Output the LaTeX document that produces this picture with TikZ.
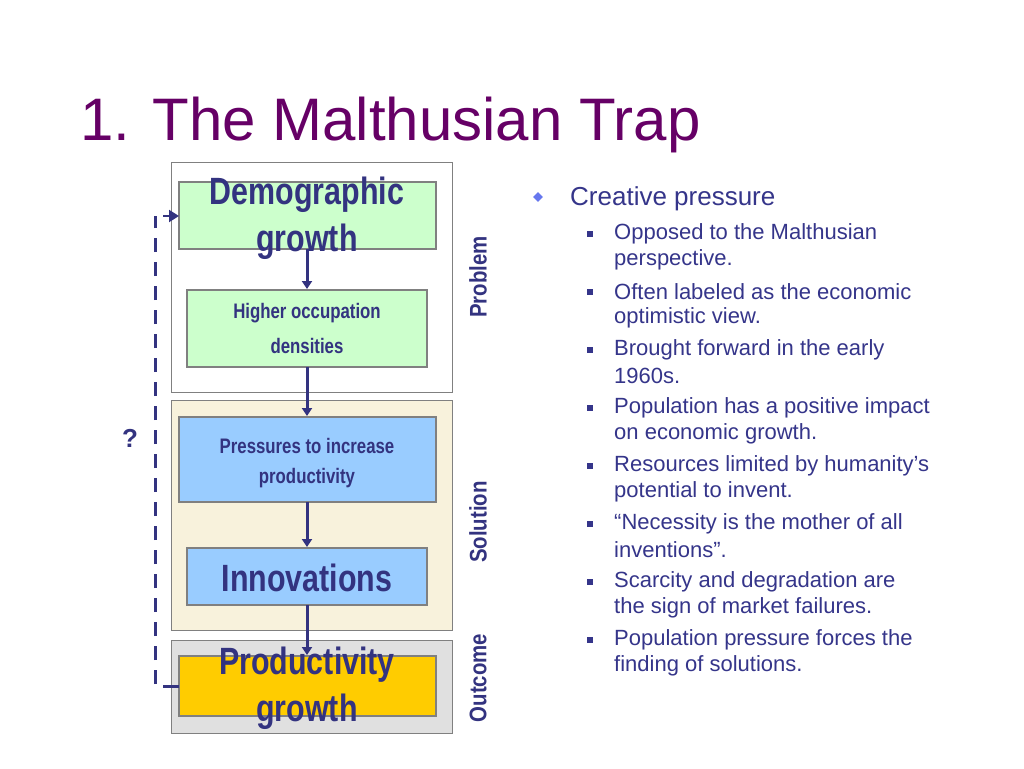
\documentclass[tikz,border=0pt]{standalone}
\usepackage{fontspec}
\setmainfont{Liberation Sans}
\usetikzlibrary{arrows.meta,shapes.geometric}
\definecolor{ttl}{HTML}{660066}
\definecolor{txt}{HTML}{35358A}
\definecolor{boxt}{HTML}{333380}
\definecolor{gfill}{HTML}{CCFFCC}
\definecolor{bfill}{HTML}{99CCFF}
\definecolor{ofill}{HTML}{FFCC00}
\definecolor{sfill}{HTML}{F8F2DC}
\definecolor{pfill}{HTML}{E0E0E0}
\definecolor{bord}{HTML}{808080}
\definecolor{dia}{HTML}{6677EE}
\begin{document}
\begin{tikzpicture}[x=1pt,y=-1pt,
 panel/.style={draw=bord,line width=1pt},
 flowbox/.style={draw=bord,line width=2pt},
 btxt/.style={text=boxt,font=\bfseries,xscale=0.8,inner sep=0pt},
 side/.style={text=boxt,font=\bfseries\fontsize{24}{24}\selectfont,rotate=90,xscale=0.85,inner sep=0pt},
 flow/.style={draw=boxt,line width=3pt,-{Triangle[length=8pt,width=10pt]}},
 bl/.style={anchor=west,text=txt,inner sep=0pt,font=\fontsize{22}{22}\selectfont},
 sq/.style={fill=txt,minimum size=6pt,inner sep=0pt}]
\useasboundingbox (0,0) rectangle (1024,768);
\fill[white] (0,0) rectangle (1024,768);
\node[anchor=west,text=ttl,inner sep=0pt,font=\fontsize{60}{60}\selectfont] (title) at (80,125) {1. The Malthusian Trap};
% panels
\draw[panel,fill=white] (171,162) rectangle (452,392);
\draw[panel,fill=sfill] (171,400) rectangle (452,630);
\draw[panel,fill=pfill] (171,640) rectangle (452,733);
% boxes
\draw[flowbox,fill=gfill] (179,182) rectangle (436,249);
\draw[flowbox,fill=gfill] (187,290) rectangle (427,367);
\draw[flowbox,fill=bfill] (179,417) rectangle (436,502);
\draw[flowbox,fill=bfill] (187,548) rectangle (427,605);
\draw[flowbox,fill=ofill] (179,656) rectangle (436,716);
\node[btxt,font=\bfseries\fontsize{38}{38}\selectfont] (d1) at (307,195) {Demographic};
\node[btxt,font=\bfseries\fontsize{38}{38}\selectfont] (d2) at (307,242) {growth};
\node[btxt,font=\bfseries\fontsize{21}{21}\selectfont] (h1) at (307,313) {Higher occupation};
\node[btxt,font=\bfseries\fontsize{21}{21}\selectfont] (h2) at (307,346) {densities};
\node[btxt,font=\bfseries\fontsize{21}{21}\selectfont] (p1) at (307,446) {Pressures to increase};
\node[btxt,font=\bfseries\fontsize{21}{21}\selectfont] (p2) at (307,478) {productivity};
\node[btxt,font=\bfseries\fontsize{38}{38}\selectfont] (inn) at (307,578) {Innovations};
\node[btxt,font=\bfseries\fontsize{38}{38}\selectfont] (g1) at (307,665) {Productivity};
\node[btxt,font=\bfseries\fontsize{38}{38}\selectfont] (g2) at (307,712) {growth};
% arrows
\coordinate (a1) at (307,249); \coordinate (b1) at (307,289);
\coordinate (a2) at (307,367); \coordinate (b2) at (307,416);
\coordinate (a3) at (307,502); \coordinate (b3) at (307,547);
\coordinate (a4) at (307,605); \coordinate (b4) at (307,655);
\draw[flow] (a1) -- (b1);
\draw[flow] (a2) -- (b2);
\draw[flow] (a3) -- (b3);
\draw[flow] (a4) -- (b4);
% feedback
\coordinate (f0) at (179,686); \coordinate (f1) at (163,686);
\coordinate (f2) at (155,684); \coordinate (f3) at (155,216);
\coordinate (f4) at (179,216);
\draw[boxt,line width=3pt] (f0) -- (f1);
\draw[boxt,line width=3pt,dash pattern=on 14pt off 10pt] (f2) -- (f3);
\draw[boxt,line width=2pt,-{Triangle[length=10pt,width=12pt]}] (163,216) -- (f4);
\node[text=boxt,font=\bfseries\fontsize{26}{26}\selectfont] (q) at (130,438) {?};
% side labels
\node[side] (lp) at (478,277) {Problem};
\node[side] (ls) at (478,522) {Solution};
\node[side] (lo) at (478,678) {Outcome};
% bullets
\node[diamond,fill=dia,minimum size=10pt,inner sep=0pt] (dm) at (538,197) {};
\node[bl,font=\fontsize{26}{26}\selectfont] (cp) at (570,199) {Creative pressure};
\foreach \y in {234,292,350,408,466,524,582,640} \node[sq] at (590,\y) {};
\node[bl] at (614,234) {Opposed to the Malthusian};
\node[bl] at (614,260) {perspective.};
\node[bl] at (614,292) {Often labeled as the economic};
\node[bl] at (614,318) {optimistic view.};
\node[bl] at (614,350) {Brought forward in the early};
\node[bl] at (614,376) {1960s.};
\node[bl] at (614,408) {Population has a positive impact};
\node[bl] at (614,434) {on economic growth.};
\node[bl] at (614,466) {Resources limited by humanity’s};
\node[bl] at (614,492) {potential to invent.};
\node[bl] at (614,524) {“Necessity is the mother of all};
\node[bl] at (614,550) {inventions”.};
\node[bl] at (614,582) {Scarcity and degradation are};
\node[bl] at (614,608) {the sign of market failures.};
\node[bl] at (614,640) {Population pressure forces the};
\node[bl] at (614,666) {finding of solutions.};
\end{tikzpicture}
\end{document}
